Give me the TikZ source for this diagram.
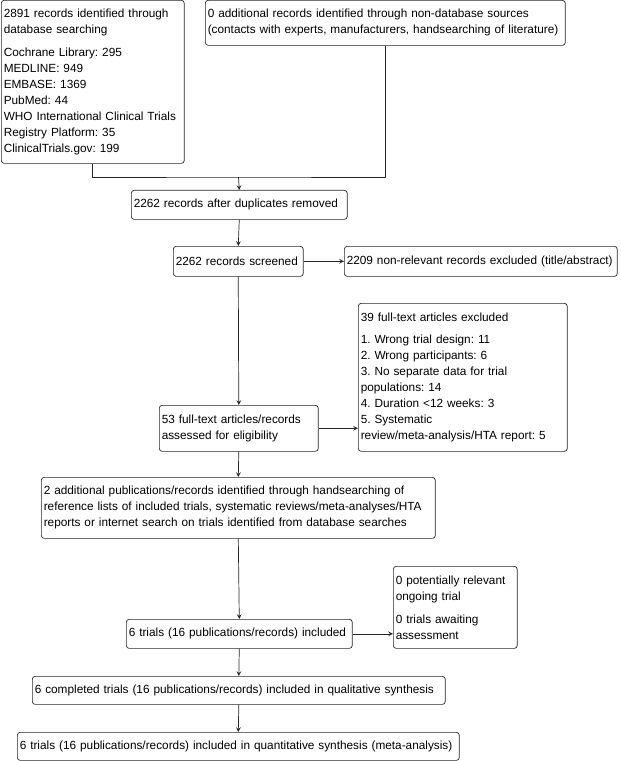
\documentclass[tikz,border=0pt]{standalone}
\usepackage{fontspec}
\setmainfont{Liberation Sans}
\usepackage{tikz}
\usetikzlibrary{calc}

\tikzset{
  box/.style={draw=black!85, line width=0.5pt, rounded corners=2pt, anchor=north west,
    align=left, inner xsep=0.06cm, inner ysep=0pt,
    font=\fontsize{8.4}{11.4}\selectfont\frenchspacing},
  link/.style={draw=black!85, line width=0.5pt}
}

\begin{document}
\begin{tikzpicture}[>=stealth, x=0.025cm, y=-0.025cm]
  \useasboundingbox (0,0) rectangle (620,761);
  % identification
  \node[box, text width=4.45cm, minimum height=4.075cm] (db) at (1,0)
    {2891 records identified through\\database searching\\[5pt]
     Cochrane Library: 295\\MEDLINE: 949\\EMBASE: 1369\\PubMed: 44\\
     WHO International Clinical Trials\\Registry Platform: 35\\ClinicalTrials.gov: 199};
  \node[box, text width=8.875cm, minimum height=1.125cm] (other) at (205,0)
    {0 additional records identified through non-database sources\\
     (contacts with experts, manufacturers, handsearching of literature)};
  \coordinate (join) at (238.5,177);
  % screening
  \node[box, text width=5.275cm, minimum height=0.725cm] (dup) at (131,190)
    {2262 records after duplicates removed};
  \node[box, text width=3.125cm, minimum height=0.75cm] (screen) at (173,246)
    {2262 records screened};
  \node[box, text width=6.7cm, minimum height=0.75cm] (excl) at (344,246)
    {2209 non-relevant records excluded (title/abstract)};
  % eligibility
  \node[box, text width=5.1cm, minimum height=3.7cm] (ftexcl) at (358,303)
    {39 full-text articles excluded\\[4pt]
     1. Wrong trial design: 11\\2. Wrong participants: 6\\
     3. No separate data for trial\\populations: 14\\4. Duration <12 weeks: 3\\
     5. Systematic\\review/meta-analysis/HTA report: 5};
  \node[box, text width=3.85cm, minimum height=1.15cm] (full) at (159,405)
    {53 full-text articles/records\\assessed for eligibility};
  \node[box, text width=9.725cm, minimum height=1.525cm] (hand) at (41,477)
    {2 additional publications/records identified through handsearching of\\
     reference lists of included trials, systematic reviews/meta-analyses/HTA\\
     reports or internet search on trials identified from database searches};
  % included
  \node[box, text width=2.975cm, minimum height=2.05cm] (ongo) at (393,566)
    {0 potentially relevant\\ongoing trial\\[5pt]0 trials awaiting\\assessment};
  \node[box, text width=5.525cm, minimum height=0.725cm] (incl) at (126,619)
    {6 trials (16 publications/records) included};
  \node[box, text width=10.2cm, minimum height=0.7cm] (qual) at (32,676)
    {6 completed trials (16 publications/records) included in qualitative synthesis};
  \node[box, text width=10.925cm, minimum height=0.7cm] (quant) at (17,732)
    {6 trials (16 publications/records) included in quantitative synthesis (meta-analysis)};
  % connectors
  \draw[link] (db.south) |- (join) -| (other.south);
  \draw[link, ->] (join) -- (dup.north);
  \draw[link, ->] (dup.south) -- (screen.north);
  \draw[link, ->] (screen.east) -- (excl.west);
  \draw[link, ->] (screen.south) -- (full.north);
  \draw[link, ->] (full.east) -- (full.east -| ftexcl.west);
  \draw[link, ->] (full.south) -- (hand.north);
  \draw[link, ->] (hand.south) -- (incl.north);
  \draw[link, ->] (incl.east) -- (incl.east -| ongo.west);
  \draw[link, ->] (incl.south) -- (qual.north);
  \draw[link, ->] (qual.south) -- (quant.north);
\end{tikzpicture}
\end{document}
